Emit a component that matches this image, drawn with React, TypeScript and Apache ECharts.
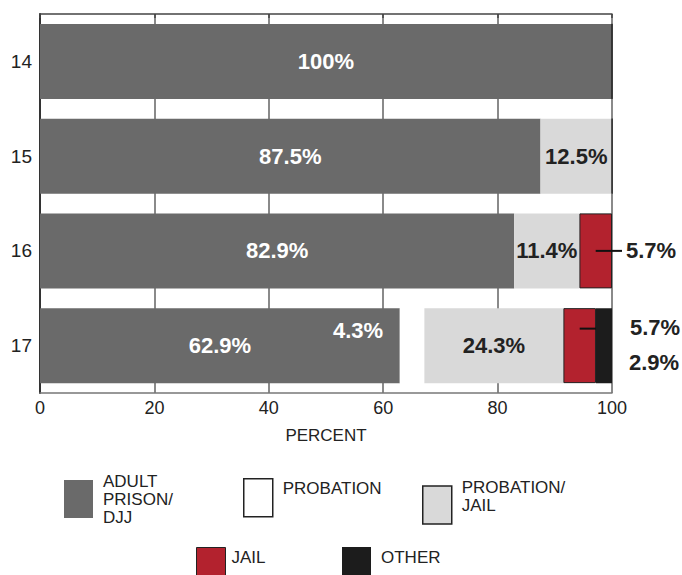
import React, { useEffect, useRef } from "react";
import * as echarts from "echarts";

const categories = ["14", "15", "16", "17"];
const adultPrison = [100, 87.5, 82.9, 62.9];
const probation = [0, 0, 0, 4.3];
const probationJail = [0, 12.5, 11.4, 24.3];
const jail = [0, 0, 5.7, 5.7];
const other = [0, 0, 0, 2.9];
const xTicks = [0, 20, 40, 60, 80, 100];
const seriesNames = ["ADULT\nPRISON/\nDJJ", "PROBATION", "PROBATION/\nJAIL", "JAIL", "OTHER"];

const FONT = "'Liberation Sans Narrow', 'Liberation Sans', Arial, sans-serif";
const C_ADULT = "#6a6a6a";
const C_PROB = "#ffffff";
const C_PJ = "#d9d9d9";
const C_JAIL = "#b3222e";
const C_OTHER = "#1c1c1c";

export default function App() {
  const ref = useRef<HTMLDivElement>(null);
  useEffect(() => {
    document.body.style.margin = "0";
    const chart = echarts.init(ref.current!, undefined, { renderer: "svg" });
    const pct = (p: any) => `${p.value}%`;
    const labelBase = { fontFamily: FONT, fontWeight: "bold" as const, fontSize: 22 };

    const mk = (vals: number[], per: (v: number, i: number) => any) =>
      vals.map((v, i) => ({ value: v, label: per(v, i) }));

    const legendItem = (name: string, left: number, top: number, extra: any, padLine: boolean, padLeft = 5) => ({
      data: [{ name, icon: "rect", ...extra }],
      left,
      top,
      padding: 0,
      orient: "horizontal",
      itemWidth: 29,
      itemHeight: 38,
      itemGap: 0,
      selectedMode: false,
      formatter: (n: string) => (padLine ? n + "\n " : n),
      textStyle: { fontFamily: FONT, fontSize: 17, color: "#222", lineHeight: 18, padding: [0, 0, 0, padLeft] },
    });

    chart.setOption({
      animation: false,
      grid: { left: 40, right: 70, top: 14, bottom: 182 },
      xAxis: [
        {
          type: "value",
          min: 0,
          max: 100,
          interval: 20,
          position: "bottom",
          name: "PERCENT",
          nameLocation: "middle",
          nameGap: 34,
          nameTextStyle: { fontFamily: FONT, fontSize: 17, color: "#222" },
          axisLine: { show: true, lineStyle: { color: "#777", width: 1.5 } },
          axisTick: { show: false },
          axisLabel: {
            fontFamily: FONT,
            fontSize: 18,
            color: "#222",
            margin: 6,
            formatter: (v: number) => (xTicks.includes(v) ? String(v) : ""),
          },
          splitLine: { show: true, lineStyle: { color: "#8a8a8a", width: 2 } },
        },
        {
          type: "value",
          min: 0,
          max: 100,
          interval: 20,
          position: "top",
          axisLine: { show: true, lineStyle: { color: "#444", width: 1.5 } },
          axisTick: { show: true, inside: true, length: 4, lineStyle: { color: "#444", width: 1.5 } },
          axisLabel: { show: false },
          splitLine: { show: false },
        },
      ],
      yAxis: [
        {
          type: "category",
          data: categories,
          inverse: true,
          axisLine: { show: true, lineStyle: { color: "#b0b0b0", width: 1 } },
          axisTick: { show: false },
          axisLabel: { fontFamily: FONT, fontSize: 19, color: "#222", margin: 8 },
        },
        {
          type: "category",
          data: categories,
          inverse: true,
          position: "right",
          axisLine: { show: true, lineStyle: { color: "#333", width: 2 } },
          axisTick: { show: false },
          axisLabel: { show: false },
        },
      ],
      legend: [
        legendItem(seriesNames[0], 64, 472, {}, false),
        legendItem(seriesNames[1], 243, 478, { itemStyle: { borderColor: "#222", borderWidth: 1.5 } }, true),
        legendItem(seriesNames[2], 422, 478, { itemStyle: { borderColor: "#222", borderWidth: 1.5 } }, true),
        legendItem(seriesNames[3], 196, 547, { itemStyle: { borderColor: "#222", borderWidth: 1 } }, true, 1),
        legendItem(seriesNames[4], 342, 547, {}, true),
      ],
      series: [
        {
          name: seriesNames[0],
          type: "bar",
          stack: "t",
          barWidth: 75,
          itemStyle: { color: C_ADULT },
          label: { show: true, position: "inside", color: "#fff", ...labelBase, formatter: pct },
          data: adultPrison,
        },
        {
          name: seriesNames[1],
          type: "bar",
          stack: "t",
          itemStyle: { color: C_PROB },
          data: mk(probation, (v) =>
            v > 0
              ? { show: true, position: "inside", color: "#fff", ...labelBase, offset: [-54, -15], formatter: pct }
              : { show: false }
          ),
        },
        {
          name: seriesNames[2],
          type: "bar",
          stack: "t",
          itemStyle: { color: C_PJ },
          data: mk(probationJail, (v) =>
            v > 0
              ? { show: true, position: "inside", color: "#222", ...labelBase, formatter: pct }
              : { show: false }
          ),
        },
        {
          name: seriesNames[3],
          type: "bar",
          stack: "t",
          itemStyle: { color: C_JAIL, borderColor: "#222", borderWidth: 1 },
          data: mk(jail, (v, i) =>
            v > 0
              ? i === 3
                ? { show: true, position: "right", distance: 34, offset: [0, -18], color: "#222", ...labelBase, formatter: pct }
                : { show: true, position: "right", distance: 14, color: "#222", ...labelBase, formatter: pct }
              : { show: false }
          ),
        },
        {
          name: seriesNames[4],
          type: "bar",
          stack: "t",
          itemStyle: { color: C_OTHER },
          data: mk(other, (v) =>
            v > 0
              ? { show: true, position: "right", distance: 17, offset: [0, 17], color: "#222", ...labelBase, formatter: pct }
              : { show: false }
          ),
        },
      ],
    });

    // leader lines for jail labels, computed from data
    const lines: any[] = [];
    jail.forEach((v, i) => {
      if (v <= 0) return;
      const start = adultPrison[i] + probation[i] + probationJail[i];
      const mid = chart.convertToPixel({ gridIndex: 0 }, [start + v / 2, i]) as number[];
      const end = chart.convertToPixel({ gridIndex: 0 }, [start + v, i]) as number[];
      const edge = chart.convertToPixel({ gridIndex: 0 }, [100, i]) as number[];
      if (i === 3) {
        lines.push({
          type: "line",
          z: 100,
          shape: { x1: mid[0], y1: mid[1] - 17, x2: end[0], y2: end[1] - 17 },
          style: { stroke: "#111", lineWidth: 2 },
        });
      } else {
        lines.push({
          type: "line",
          z: 100,
          shape: { x1: mid[0], y1: mid[1], x2: edge[0] + 10, y2: edge[1] },
          style: { stroke: "#111", lineWidth: 2 },
        });
      }
    });
    chart.setOption({ graphic: lines });

    return () => chart.dispose();
  }, []);
  return <div ref={ref} style={{ width: 682, height: 575 }} />;
}
